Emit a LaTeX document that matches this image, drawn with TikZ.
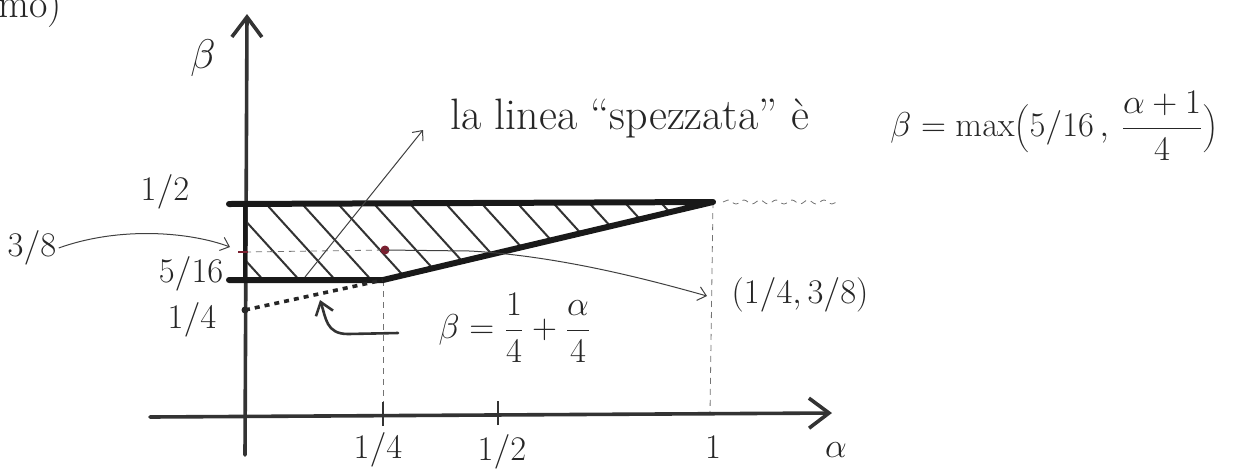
\documentclass[tikz,border=0pt]{standalone}
\usetikzlibrary{arrows.meta,decorations.pathmorphing}
\begin{document}
\begin{tikzpicture}[x=0.5pt,y=-0.5pt,
  axisline/.style={line width=1.8pt, draw=black!80, line cap=round},
  axistip/.style={-{Straight Barb[length=10pt,width=15pt,line width=1.8pt]}},
  boundline/.style={line width=3pt, draw=black!90, line cap=round, line join=round},
  hatchline/.style={line width=1pt, draw=black!80},
  pointer/.style={line width=0.5pt, draw=black!75, -{Straight Barb[length=4pt,width=7pt]}},
  fatpointer/.style={line width=1.3pt, draw=black!80, line cap=round, -{Straight Barb[length=6pt,width=9pt,line width=1.3pt]}},
  guide/.style={line width=0.4pt, draw=black!55, dash pattern=on 3pt off 2.5pt},
  dotline/.style={line width=1.8pt, draw=black!85, dash pattern=on 2.5pt off 2.5pt},
  ticks/.style={line width=1.2pt, draw=black!80},
  lbl/.style={font=\fontsize{18}{22}\selectfont, text=black!85, inner sep=1pt},
  eqlbl/.style={font=\fontsize{19}{23}\selectfont, text=black!85, inner sep=1pt},
  biglbl/.style={font=\fontsize{20}{24}\selectfont, text=black!85, inner sep=1pt},
  textlbl/.style={font=\fontsize{22}{26}\selectfont, text=black!85, inner sep=1pt}
]
\definecolor{dotred}{HTML}{7A2030}
\useasboundingbox (0,0) rectangle (1249,468);

% key points
\coordinate (ybot) at (245,455);
\coordinate (ytop) at (247,14);
\coordinate (xl) at (150,417);
\coordinate (xr) at (832,413);
\coordinate (A) at (245,204);
\coordinate (Al) at (229,204);
\coordinate (B) at (713,202);
\coordinate (C) at (383,280);
\coordinate (D) at (245,280);
\coordinate (Dl) at (229,280);
\coordinate (E) at (245,310);
\coordinate (F) at (245,252);
\coordinate (P) at (385,250);
\coordinate (t1) at (383,414);
\coordinate (t2) at (498,413);
\coordinate (t3) at (710,413);

% hatching
\begin{scope}
  \clip (A) -- (B) -- (C) -- (D) -- cycle;
  \foreach \x in {150,186,...,740} \draw[hatchline] (\x,195) -- ++(100,110);
\end{scope}

% guides
\draw[guide] (C) -- (t1);
\draw[guide] (B) -- (t3);
\draw[guide] (F) -- (P);
\draw[guide, decorate, decoration={snake, amplitude=1pt, segment length=8pt}] (723,202) -- (837,202);

% axes
\draw[axisline, axistip] (ybot) -- (ytop);
\draw[axisline, axistip] (xl) -- (xr);
\draw[ticks] ([yshift=-6]t1) -- ([yshift=6]t1);
\draw[ticks] ([yshift=-6]t2) -- ([yshift=6]t2);

% boundary of region
\draw[boundline] (Al) -- (B) -- (C) -- (Dl);
\draw[line width=2.2pt, draw=black!90] (A) -- (D);
\draw[dotline] (E) -- (C);
\fill[black!85] (E) circle (3.5);
\fill[dotred] (P) circle (4.5);
\draw[line width=1.2pt, draw=dotred] (238,252) -- (248,252);

% labels
\node[biglbl] (beta) at (203,58) {$\beta$};
\node[lbl] (alpha) at (836,450) {$\alpha$};
\node[lbl] (lh) at (165,192) {$1/2$};
\node[lbl] (l38) at (32,248) {$3/8$};
\node[lbl] (l516) at (191,274) {$5/16$};
\node[lbl] (lq) at (192,320) {$1/4$};
\node[lbl] (xq) at (378,450) {$1/4$};
\node[lbl] (xh) at (502,452) {$1/2$};
\node[lbl] (x1) at (713,447) {$1$};
\node[lbl] (pt) at (800,295) {$(1/4,3/8)$};
\node[lbl] (eq1) at (515,328) {$\displaystyle\beta=\frac{1}{4}+\frac{\alpha}{4}$};
\node[textlbl, anchor=west] (txt) at (448,118) {la linea ``spezzata'' è};
\node[eqlbl, anchor=west] (eq2) at (888,126) {$\displaystyle\beta=\max\biggl(5/16\,,\,\frac{\alpha+1}{4}\biggr)$};
\node[biglbl, anchor=east] (corner) at (64,8) {mo)};

% pointers
\coordinate (ptTip) at (707,296);
\coordinate (txtFrom) at (305,277);
\coordinate (txtTip) at (423,130);
\coordinate (axTip) at (230,247);
\coordinate (eqFrom) at (398,333);
\coordinate (eqTip) at (320,300);
\draw[pointer] (P) -- (470,251) .. controls (560,256) and (650,280) .. (ptTip);
\draw[pointer] (txtFrom) -- (txtTip);
\draw[pointer] (l38.east) .. controls (120,226) and (190,232) .. (axTip);
\draw[fatpointer] (eqFrom) -- (348,334) .. controls (326,334) and (326,318) .. (eqTip);
\end{tikzpicture}
\end{document}
